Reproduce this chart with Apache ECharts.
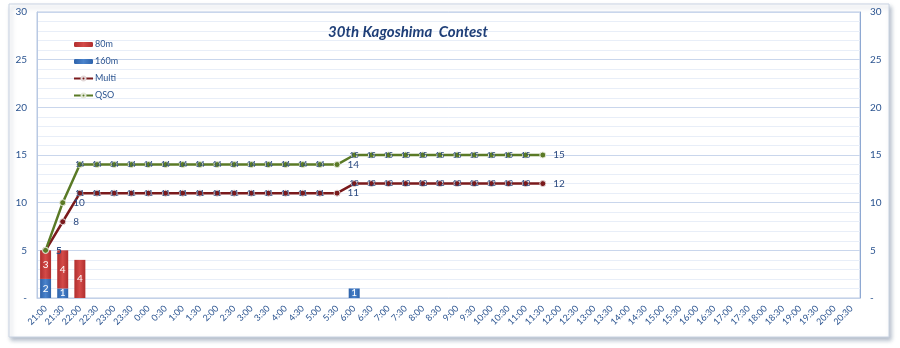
<!DOCTYPE html>
<html>
<head>
<meta charset="utf-8">
<script src="https://cdn.jsdelivr.net/npm/echarts@6/dist/echarts.min.js"></script>
<style>
  html, body { margin: 0; padding: 0; background: #ffffff; }
  #chart { width: 900px; height: 348px; }
</style>
</head>
<body>
<div id="chart"></div>
<script>
// Half-hour time slots across the contest
const timeSlots = [
  '21:00','21:30','22:00','22:30','23:00','23:30','0:00','0:30','1:00','1:30',
  '2:00','2:30','3:00','3:30','4:00','4:30','5:00','5:30','6:00','6:30',
  '7:00','7:30','8:00','8:30','9:00','9:30','10:00','10:30','11:00','11:30',
  '12:00','12:30','13:00','13:30','14:00','14:30','15:00','15:30','16:00','16:30',
  '17:00','17:30','18:00','18:30','19:00','19:30','20:00','20:30'
];

// QSOs per slot by band
const band80m = [3, 4, 4];
const band160m = [2, 1, null, null, null, null, null, null, null, null,
                  null, null, null, null, null, null, null, null, 1];

// Cumulative totals
const multiTotal = [5, 8, 11, 11, 11, 11, 11, 11, 11, 11, 11, 11, 11, 11, 11,
                    11, 11, 11, 12, 12, 12, 12, 12, 12, 12, 12, 12, 12, 12, 12];
const qsoTotal = [5, 10, 14, 14, 14, 14, 14, 14, 14, 14, 14, 14, 14, 14, 14,
                  14, 14, 14, 15, 15, 15, 15, 15, 15, 15, 15, 15, 15, 15, 15];

const yTicks = { min: 0, max: 30, step: 5 };

const textBlue = '#2b5490';
const baseFont = 'Lato, "Open Sans", sans-serif';

// Labels sit to the right where the running total steps up (or ends),
// otherwise they are centred on the point.
function lineData(values) {
  return values.map((v, i) => {
    const next = values[i + 1];
    const stepping = next === undefined || next !== v;
    return {
      value: v,
      label: stepping
        ? { position: 'right', distance: 7, fontSize: 10 }
        : { position: 'inside', fontSize: 8 }
    };
  });
}

const redFill = new echarts.graphic.LinearGradient(0, 0, 1, 0, [
  { offset: 0, color: '#b02e2e' },
  { offset: 0.5, color: '#d44a48' },
  { offset: 1, color: '#b02e2e' }
]);
const blueFill = new echarts.graphic.LinearGradient(0, 0, 1, 0, [
  { offset: 0, color: '#2d62aa' },
  { offset: 0.5, color: '#4a83cc' },
  { offset: 1, color: '#2d62aa' }
]);

const chart = echarts.init(document.getElementById('chart'), null, { renderer: 'canvas' });

const yAxisCommon = {
  type: 'value',
  min: yTicks.min,
  max: yTicks.max,
  interval: yTicks.step,
  minorTick: { show: false, splitNumber: 5 },
  minorSplitLine: { show: true, lineStyle: { color: '#e8eef8', width: 1 } },
  splitLine: { show: true, lineStyle: { color: '#c9d6ec', width: 1 } },
  axisTick: { show: false },
  axisLabel: {
    color: textBlue,
    fontSize: 10,
    fontFamily: baseFont,
    margin: 10,
    formatter: v => (v === 0 ? '-' : String(v))
  }
};

chart.setOption({
  animation: false,
  backgroundColor: 'transparent',
  textStyle: { fontFamily: baseFont },
  graphic: [{
    type: 'rect',
    z: -10,
    shape: { x: 9, y: 4, width: 880, height: 333 },
    style: {
      fill: '#ffffff',
      stroke: '#c9d3e2',
      lineWidth: 1,
      shadowBlur: 4,
      shadowOffsetX: 2,
      shadowOffsetY: 3,
      shadowColor: 'rgba(90,110,140,0.45)'
    }
  }],
  title: {
    text: '30th Kagoshima  Contest',
    left: 403,
    top: 20,
    textAlign: 'center',
    textStyle: {
      color: '#1f3f78',
      fontSize: 15,
      fontWeight: 'bold',
      fontStyle: 'italic',
      fontFamily: baseFont
    }
  },
  legend: {
    orient: 'vertical',
    left: 68,
    top: 35,
    itemWidth: 19,
    itemHeight: 5,
    itemGap: 8,
    textStyle: { color: textBlue, fontSize: 9, fontFamily: baseFont, padding: [0, 0, 0, -3] },
    data: ['80m', '160m', 'Multi', 'QSO']
  },
  grid: {
    left: 37,
    right: 40,
    top: 12,
    bottom: 50,
    show: true,
    borderColor: '#b9c9e3',
    borderWidth: 1
  },
  xAxis: {
    type: 'category',
    data: timeSlots,
    boundaryGap: true,
    axisTick: { show: false },
    axisLine: { lineStyle: { color: '#c3d1e8' } },
    axisLabel: {
      interval: 0,
      rotate: 45,
      color: textBlue,
      fontSize: 9,
      fontFamily: baseFont,
      margin: 9
    }
  },
  yAxis: [
    Object.assign({}, yAxisCommon, {
      position: 'left',
      axisLine: { show: true, lineStyle: { color: '#b9c9e3' } }
    }),
    Object.assign({}, yAxisCommon, {
      position: 'right',
      axisLine: { show: true, lineStyle: { color: '#8ea8d2' } }
    })
  ],
  series: [
    {
      name: '160m',
      type: 'bar',
      stack: 'bands',
      barWidth: 11,
      data: band160m,
      itemStyle: { color: blueFill },
      label: { show: true, position: 'inside', color: '#ffffff', fontSize: 10 },
      z: 2
    },
    {
      name: '80m',
      type: 'bar',
      stack: 'bands',
      barWidth: 11,
      data: band80m,
      itemStyle: { color: redFill },
      label: { show: true, position: 'inside', color: '#ffffff', fontSize: 10 },
      z: 2
    },
    {
      name: 'Multi',
      type: 'line',
      data: lineData(multiTotal),
      symbol: 'circle',
      symbolSize: 6,
      lineStyle: { color: '#7a1a1c', width: 2.5 },
      itemStyle: { color: '#7a1a1c', borderColor: '#e2d8d8', borderWidth: 1 },
      label: { show: true, color: '#2b4a80' },
      z: 4
    },
    {
      name: 'QSO',
      type: 'line',
      data: lineData(qsoTotal),
      symbol: 'circle',
      symbolSize: 6,
      lineStyle: { color: '#5a7a26', width: 2.5 },
      itemStyle: { color: '#5a7a26', borderColor: '#e4e8d8', borderWidth: 1 },
      label: { show: true, color: '#2b4a80' },
      z: 4
    }
  ]
});
</script>
</body>
</html>
